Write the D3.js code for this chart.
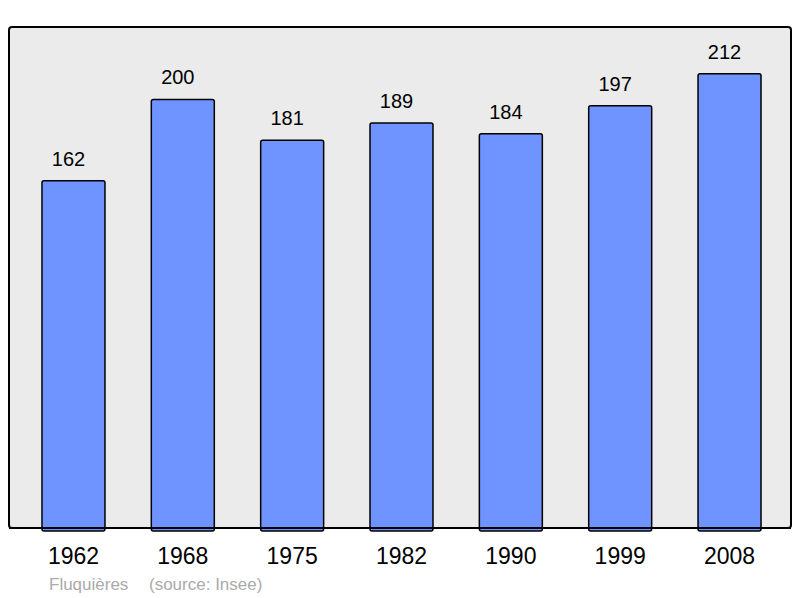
<!DOCTYPE html>
<html>
<head>
<meta charset="utf-8">
<script src="https://cdn.jsdelivr.net/npm/d3@7"></script>
<style>
    body { margin: 0; background: #fff; }
    text { font-family: "Liberation Sans", Arial, sans-serif; }
</style>
</head>
<body>
<div id="chart"></div>
<script>
const years = ["1962", "1968", "1975", "1982", "1990", "1999", "2008"];
const population = [162, 200, 181, 189, 184, 197, 212];
const townName = "Fluquières";
const sourceNote = "(source: Insee)";

const width = 800;
const height = 598;

const svg = d3.select("#chart")
    .append("svg")
    .attr("width", width)
    .attr("height", height);

// Background panel
svg.append("rect")
    .attr("x", 9)
    .attr("y", 27)
    .attr("width", 782)
    .attr("height", 501)
    .attr("rx", 3)
    .style("fill", "#ebebeb")
    .style("stroke", "#000")
    .style("stroke-width", 2);

const xScale = d3.scaleBand()
    .domain(years)
    .range([18.8, 784.2])
    .paddingInner(0.424)
    .paddingOuter(0.212);

const yScale = d3.scaleLinear()
    .domain([0, 233.8])
    .range([528, 27]);

const data = years.map((y, i) => ({ year: y, value: population[i] }));

svg.selectAll(".bar")
    .data(data)
    .enter()
    .append("rect")
    .attr("class", "bar")
    .attr("x", d => xScale(d.year))
    .attr("y", d => yScale(d.value))
    .attr("width", xScale.bandwidth())
    .attr("height", d => yScale(0) - yScale(d.value) + 3)
    .attr("rx", 2)
    .style("fill", "#7094ff")
    .style("stroke", "#000")
    .style("stroke-width", 1.5);

// redraw bottom border over bar ends
svg.append("line")
    .attr("x1", 9).attr("x2", 791)
    .attr("y1", 528).attr("y2", 528)
    .style("stroke", "#000")
    .style("stroke-width", 2);

svg.selectAll(".value-label")
    .data(data)
    .enter()
    .append("text")
    .attr("class", "value-label")
    .attr("x", d => xScale(d.year) + xScale.bandwidth() / 2 - 5)
    .attr("y", d => yScale(d.value) - 15)
    .style("text-anchor", "middle")
    .style("font-size", "20px")
    .style("fill", "#000")
    .text(d => d.value);

// Year axis labels
const xAxis = svg.append("g")
    .attr("transform", "translate(0, 528)")
    .call(d3.axisBottom(xScale).tickSize(0).tickPadding(20));
xAxis.select(".domain").remove();
xAxis.selectAll("text")
    .style("font-family", "\"Liberation Sans\", Arial, sans-serif")
    .style("font-size", "23px")
    .style("fill", "#000");

svg.append("text")
    .attr("x", 49)
    .attr("y", 590)
    .style("font-size", "17px")
    .style("fill", "#aaaaaa")
    .text(townName);

svg.append("text")
    .attr("x", 149)
    .attr("y", 590)
    .style("font-size", "17px")
    .style("fill", "#aaaaaa")
    .text(sourceNote);
</script>
</body>
</html>
